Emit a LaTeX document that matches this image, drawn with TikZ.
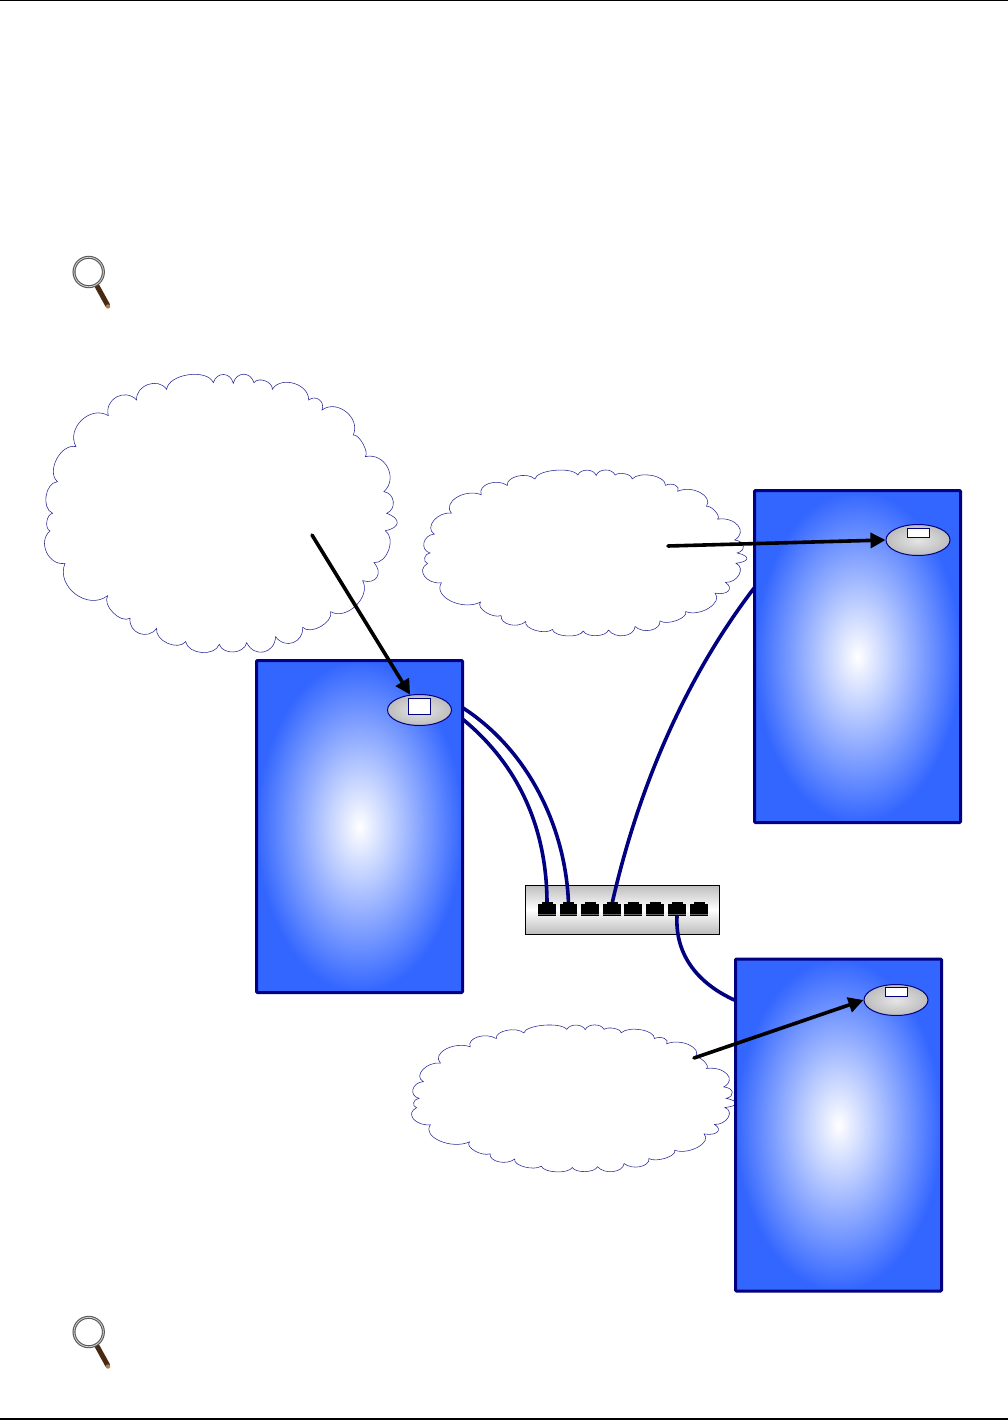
\documentclass[tikz,border=0pt]{standalone}
\usetikzlibrary{arrows.meta,shapes.geometric}
\definecolor{navyline}{RGB}{0,0,128}
\definecolor{panelblue}{RGB}{51,102,255}
\definecolor{cloudline}{RGB}{40,40,150}
\definecolor{lensbrown}{RGB}{72,42,18}
\tikzset{
  x=1pt,y=-1pt,
  panel/.style={rectangle,draw=navyline,line width=3pt,rounded corners=1pt,inner sep=0pt,
    minimum width=206pt,minimum height=332pt,shading=radial,inner color=white,outer color=panelblue},
  jack/.style={ellipse,draw=navyline,line width=1pt,inner sep=0pt,minimum width=64pt,minimum height=31pt,
    shading=radial,inner color=gray!20,outer color=gray!52},
  tag/.style={rectangle,draw=navyline,fill=white,line width=1pt,inner sep=0pt,minimum width=22pt},
  hub/.style={rectangle,draw=black,line width=.8pt,inner sep=0pt,minimum width=194pt,minimum height=49pt,
    top color=gray!52,bottom color=gray!52,middle color=white},
  port/.style={rectangle,fill=black,inner sep=0pt,minimum width=17pt,minimum height=12pt},
  cable/.style={draw=navyline,line width=3.6pt},
  pointer/.style={draw=black,line width=3.6pt,line cap=round,-{Triangle[length=15pt,width=15pt]}},
  cloudshape/.style={draw=cloudline,fill=white,line width=.55pt,line join=miter},
  b/.style={bend left=75,looseness=#1},
  rule/.style={draw=black,line width=1.2pt}
}
\newcommand{\cloudoutline}{
 (410,88) to[b=.85] (550,68) to[b=1.5] (610,70) to[b=1.5] (672,68) to[b=1] (727,88)
 to[b=1.1] (836,120) to[b=1.4] (876,150) to[b=1.2] (970,225) to[b=.6] (1006,290)
 to[b=1.3] (1062,395) to[b=1.3] (1070,460) to[b=2.3] (1066,512) to[b=1] (1032,608)
 to[b=1.7] (998,662) to[b=1.05] (902,755) to[b=.9] (818,802) to[b=1.4] (737,830)
 to[b=1.5] (650,848) to[b=1.1] (568,853) to[b=1] (467,845) to[b=1] (380,805)
 to[b=1.35] (300,775) to[b=.9] (233,707) to[b=1.2] (105,610) to[b=1.2] (60,513)
 to[b=.9] (68,460) to[b=1] (82,365) to[b=1] (138,260) to[b=1.2] (235,167)
 to[b=1.35] (320,120) to[b=1.2] (410,88) -- cycle}
\newcommand{\lensicon}[1]{
 \begin{scope}[yshift=-#1pt]
  \draw[line width=5pt,lensbrown,line cap=round] (97,286) -- (107.5,305);
  \fill[brown!70!gray] (108,306.5) circle (2.2pt);
  \draw[gray!70!black,line width=3pt] (88.7,272) circle (14.7pt);
  \draw[gray!35,line width=.8pt] (88.7,272) circle (14.7pt);
 \end{scope}}
\begin{document}
\begin{tikzpicture}
\useasboundingbox (0,0) rectangle (1008,1420);
\draw[rule] (0,.5) -- (1008,.5);
\draw[rule] (0,1419) -- (1008,1419);
\lensicon{0}
\lensicon{1060}
% clouds
\begin{scope}[shift={(30,360)},xscale=.3333,yscale=.3333]
 \path[cloudshape] \cloudoutline;
\end{scope}
\begin{scope}[shift={(409.2,461.5)},xscale=.3065,yscale=.1988]
 \path[cloudshape] \cloudoutline;
\end{scope}
\begin{scope}[shift={(398.2,1017.4)},xscale=.3065,yscale=.176]
 \path[cloudshape] \cloudoutline;
\end{scope}
% free cable ends
\coordinate (upperout) at (460,706);
\coordinate (lowerout) at (460,717);
\coordinate (rightin) at (758,583);
\coordinate (lowerin) at (739,1002);
% hub and ports
\node[hub] (hub) at (622.5,909.5) {};
\foreach \n/\px in {1/547,2/568.5,3/590,4/612,5/633,6/655,7/677,8/699}{
  \node[port] (p\n) at (\px,910) {};
}
% cables
\path[cable] (upperout) .. controls (530,750) and (566,830) .. (p2.north);
\path[cable] (lowerout) .. controls (520,765) and (547,830) .. (p1.north);
\path[cable] (rightin) .. controls (690,670) and (640,780) .. (p4.north);
\path[cable] (p7.south) .. controls (675,955) and (698,985) .. (lowerin);
% port details over cable ends
\foreach \n in {1,...,8}{
  \fill[black] ([xshift=-5.5pt,yshift=2pt]p\n.north) rectangle ([xshift=5.5pt]p\n.north);
  \fill[black] (p\n.north west) rectangle (p\n.south east);
  \draw[gray!80!black,line width=.5pt] ([yshift=1.8pt]p\n.south west) -- ([yshift=1.8pt]p\n.south east);
}
% panels
\node[panel] (left) at (359.5,826.5) {};
\node[panel] (upper) at (857.5,656.5) {};
\node[panel] (lower) at (838.5,1125) {};
% jacks
\node[jack] (jl) at (419.5,710) {};
\node[jack] (ju) at (918,540) {};
\node[jack] (jd) at (896,1000) {};
\node[tag,minimum height=16pt] (tl) at (419.5,706.5) {};
\node[tag,minimum height=9pt] (tu) at (918,533) {};
\node[tag,minimum height=9pt] (td) at (896.5,991.5) {};
% pointers
\coordinate (from1) at (312,535);
\coordinate (from2) at (668,546);
\coordinate (from3) at (694,1058);
\path[pointer] (from1) -- (jl);
\path[pointer] (from2) -- (ju.west);
\path[pointer] (from3) -- (jd.west);
\end{tikzpicture}
\end{document}
